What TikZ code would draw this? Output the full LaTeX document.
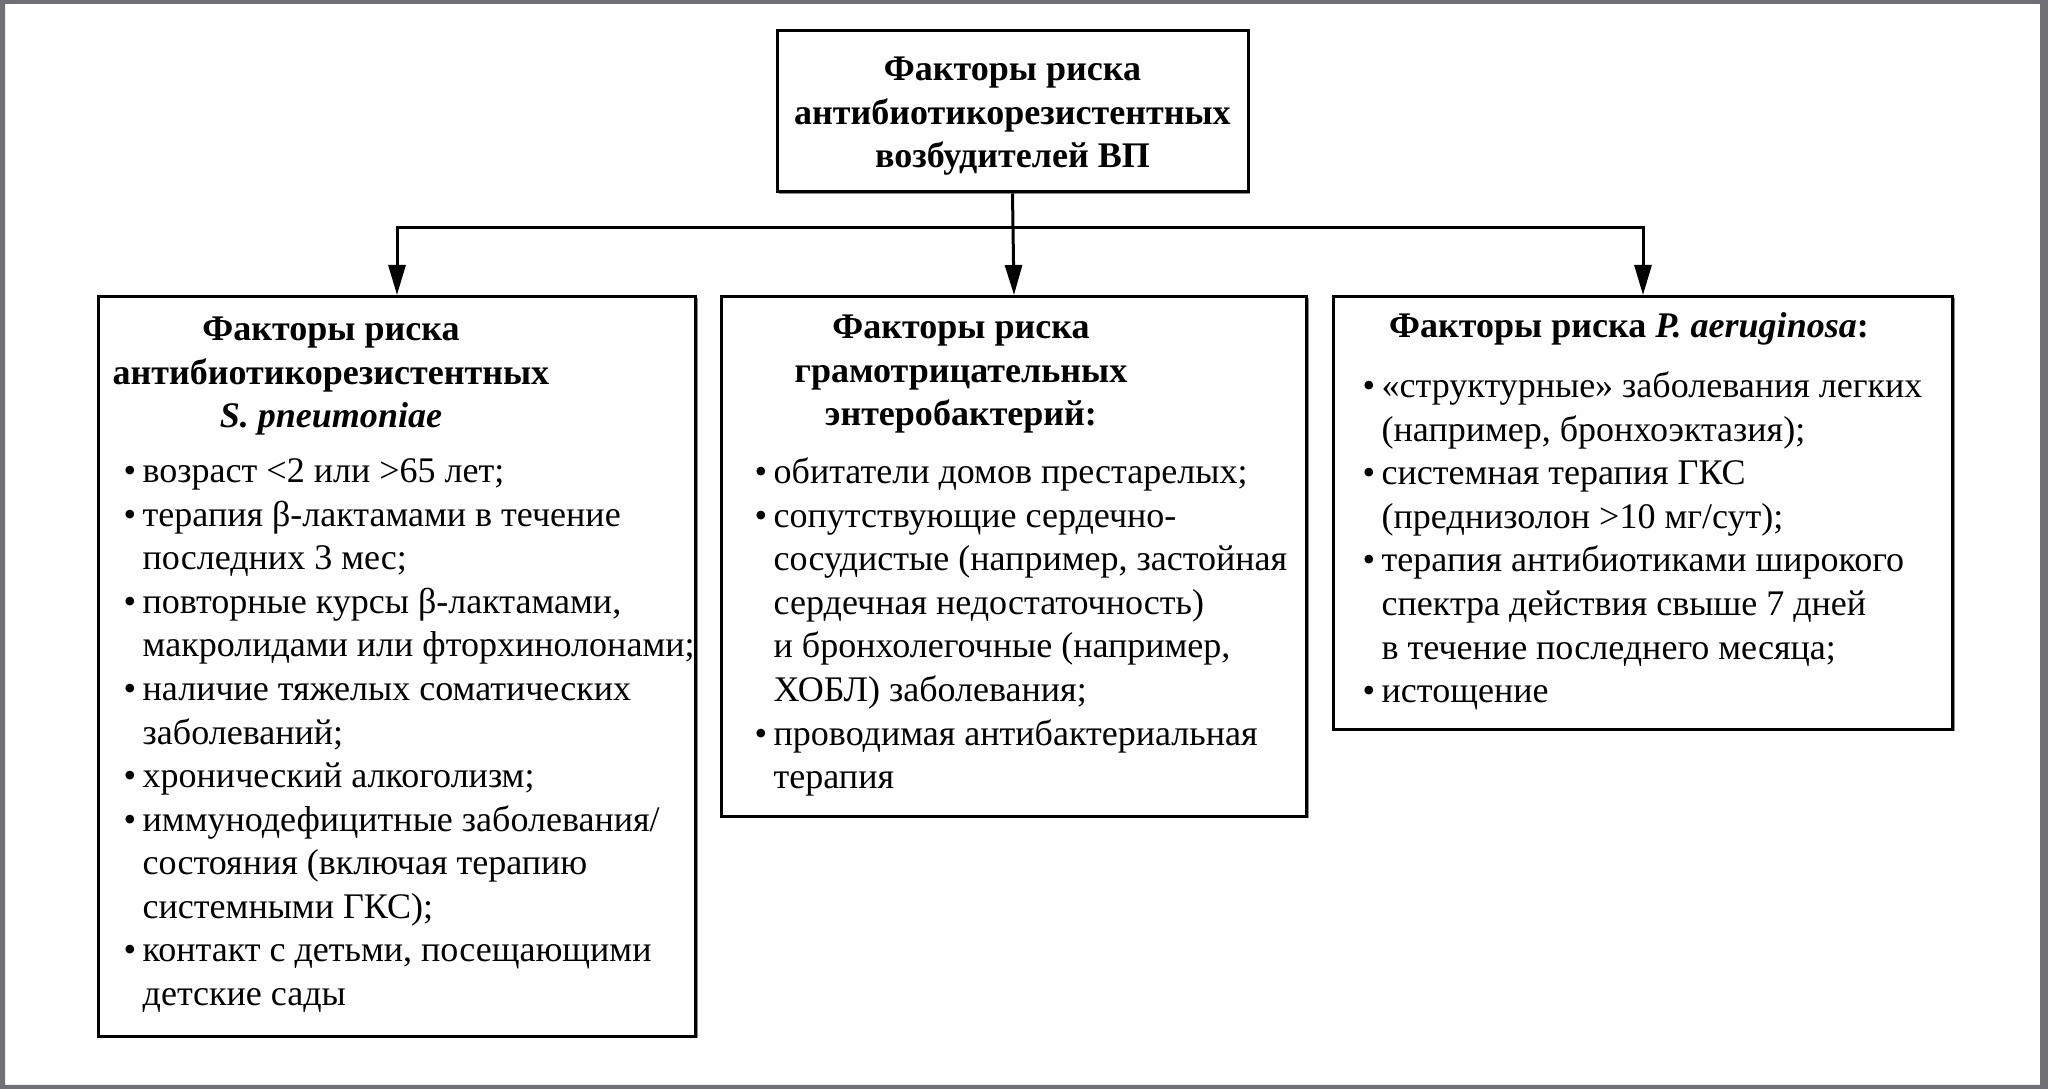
\documentclass[tikz,border=0pt]{standalone}
\usepackage{fontspec}
\setmainfont{Liberation Serif}
\usetikzlibrary{arrows.meta,shadows}
\definecolor{framegray}{RGB}{112,112,118}
\newcommand{\bul}{\makebox[1.9mm][l]{\textbullet}}

\begin{document}
\begin{tikzpicture}[
  box/.style={draw, line width=0.3mm, fill=white,
    drop shadow={shadow xshift=0.2mm, shadow yshift=-0.2mm, fill=black!45, opacity=1}},
  head/.style={font=\fontsize{10.25}{12.4}\selectfont\bfseries, inner sep=0pt},
  list/.style={font=\fontsize{10.25}{12.4}\selectfont, inner sep=0pt},
  link/.style={line width=0.3mm, -{Triangle[length=3mm,width=1.7mm]}}]
  \useasboundingbox (0,0) rectangle (20.48,-10.89);
  \fill[framegray, even odd rule] (0,0) rectangle (20.48,-10.89)
    (0.05,-0.04) rectangle (20.40,-10.85);

  \node[box, head, minimum width=4.71cm, minimum height=1.61cm] (root) at (10.125,-1.115)
    {\begin{tabular}{@{}c@{}}\rule{0pt}{11pt}Факторы риска\\антибиотикорезистентных\\возбудителей ВП\end{tabular}};
  \node[box, anchor=north west, minimum width=5.97cm, minimum height=7.40cm] (pn) at (0.97,-2.95) {};
  \node[box, anchor=north west, minimum width=5.85cm, minimum height=5.20cm] (en) at (7.20,-2.95) {};
  \node[box, anchor=north west, minimum width=6.19cm, minimum height=4.33cm] (pa) at (13.32,-2.95) {};
  \coordinate (bus) at (0,-2.28);

  \node[head, anchor=north] (pnhead) at (3.31,-3.094)
    {\begin{tabular}{@{}c@{}}Факторы риска\\антибиотикорезистентных\\\textit{S. pneumoniae}\end{tabular}};
  \node[list, anchor=north west] (pnlist) at (1.23,-4.514)
    {\begin{tabular}{@{}l@{}l@{}}
      \bul & возраст <2 или >65 лет;\\
      \bul & терапия β-лактамами в течение\\
           & последних 3 мес;\\
      \bul & повторные курсы β-лактамами,\\
           & макролидами или фторхинолонами;\\
      \bul & наличие тяжелых соматических\\
           & заболеваний;\\
      \bul & хронический алкоголизм;\\
      \bul & иммунодефицитные заболевания/\\
           & состояния (включая терапию\\
           & системными ГКС);\\
      \bul & контакт с детьми, посещающими\\
           & детские сады
    \end{tabular}};

  \node[head, anchor=north] (enhead) at (9.61,-3.074)
    {\begin{tabular}{@{}c@{}}Факторы риска\\грамотрицательных\\энтеробактерий:\end{tabular}};
  \node[list, anchor=north west] (enlist) at (7.54,-4.524)
    {\begin{tabular}{@{}l@{}l@{}}
      \bul & обитатели домов престарелых;\\
      \bul & сопутствующие сердечно-\\
           & сосудистые (например, застойная\\
           & сердечная недостаточность)\\
           & и бронхолегочные (например,\\
           & ХОБЛ) заболевания;\\
      \bul & проводимая антибактериальная\\
           & терапия
    \end{tabular}};

  \node[head, anchor=north] (pahead) at (16.29,-3.064)
    {\begin{tabular}{@{}c@{}}Факторы риска \textit{P. aeruginosa}:\end{tabular}};
  \node[list, anchor=north west] (palist) at (13.62,-3.664)
    {\begin{tabular}{@{}l@{}l@{}}
      \bul & «структурные» заболевания легких\\
           & (например, бронхоэктазия);\\
      \bul & системная терапия ГКС\\
           & (преднизолон >10 мг/сут);\\
      \bul & терапия антибиотиками широкого\\
           & спектра действия свыше 7 дней\\
           & в течение последнего месяца;\\
      \bul & истощение
    \end{tabular}};

  \draw[link] (root.south) -- (en.north);
  \draw[link] (root.south |- bus) -| (pn.north);
  \draw[link] (root.south |- bus) -| (pa.north);
\end{tikzpicture}
\end{document}
